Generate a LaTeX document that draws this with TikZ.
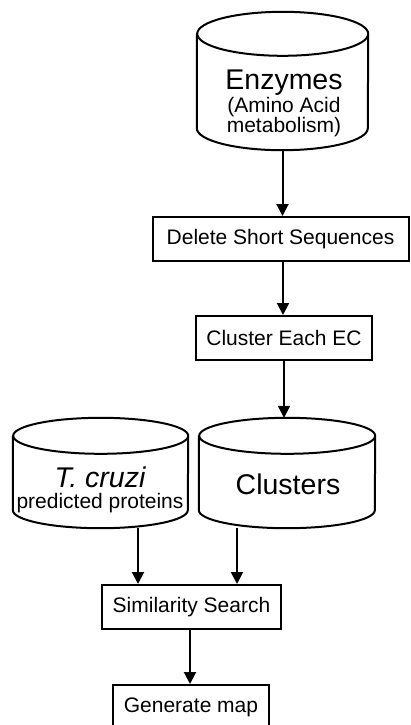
\documentclass[tikz,border=0pt]{standalone}
\usepackage{fontspec}
\setmainfont{Liberation Sans}
\usetikzlibrary{arrows.meta,positioning}

% database outline round a named node: node, x radius, y radius
\newcommand{\dbshape}[3]{%
  \draw[line width=2pt, line join=round] ([yshift=-#3]#1.north west) -- ([yshift=#3]#1.south west)
     arc[start angle=180, end angle=360, x radius=#2, y radius=#3]
     -- ([yshift=-#3]#1.north east)
     arc[start angle=0, end angle=360, x radius=#2, y radius=#3];
}

\tikzset{
  db/.style={rectangle, inner sep=0pt},
  stepbox/.style={rectangle, draw, line width=2pt, minimum height=44pt, inner sep=0pt, font=\fontsize{21}{21}\selectfont},
  flow/.style={line width=2pt, -{Triangle[length=12pt,width=12pt]}},
  bigtext/.style={font=\fontsize{28.5}{28.5}\selectfont, inner sep=0pt},
  smalltext/.style={font=\fontsize{21}{21}\selectfont, inner sep=0pt, align=center}
}

\begin{document}
\begin{tikzpicture}[x=1pt,y=1pt]
    \useasboundingbox (0,0) rectangle (411,-725);
    \clip (0,0) rectangle (411,-725);

    % Databases
    \node[db, minimum width=171pt, minimum height=138pt] (enzymes) at (282.5,-81) {};
    \node[db, minimum width=175pt, minimum height=110pt] (tcruzi) at (100.5,-473) {};
    \node[db, minimum width=176pt, minimum height=110pt] (clusters) at (287,-473) {};
    \dbshape{enzymes}{85.5pt}{22pt}
    \dbshape{tcruzi}{87.5pt}{18pt}
    \dbshape{clusters}{88pt}{18pt}

    % Database texts
    \node[bigtext, anchor=base] (enzymeslbl) at (284,-89) {Enzymes};
    \node[smalltext, anchor=base] (aminolbl) at (284,-112) {(Amino Acid};
    \node[smalltext, anchor=base] (metalbl) at (284,-132) {metabolism)};
    \node[font=\itshape\fontsize{28.5}{28.5}\selectfont, inner sep=0pt, anchor=base] (tcruzilbl) at (100,-487) {T. cruzi};
    \node[smalltext, anchor=base] (predlbl) at (100,-508) {predicted proteins};
    \node[bigtext, anchor=base] (clusterslbl) at (288,-494) {Clusters};

    % Steps
    \node[stepbox, minimum width=256pt] (delete) at (280.5,-239) {Delete Short Sequences};
    \node[stepbox, minimum width=176pt] (cluster) at (284,-338) {Cluster Each EC};
    \node[stepbox, minimum width=179pt] (sim) at (191.5,-607) {Similarity Search};
    \node[stepbox, minimum width=156pt] (map) at (191,-707) {Generate map};

    % Arrows
    \draw[flow] (enzymes.south) -- (enzymes.south |- delete.north);
    \draw[flow] ([xshift=2.5pt]delete.south) -- ([xshift=2.5pt]delete.south |- cluster.north);
    \draw[flow] (cluster.south) -- (cluster.south |- clusters.north);
    \draw[flow] ([xshift=37.5pt]tcruzi.south) -- ([xshift=37.5pt]tcruzi.south |- sim.north);
    \draw[flow] ([xshift=-50pt]clusters.south) -- ([xshift=-50pt]clusters.south |- sim.north);
    \draw[flow] ([xshift=-1.5pt]sim.south) -- ([xshift=-1.5pt]sim.south |- map.north);

\end{tikzpicture}
\end{document}
